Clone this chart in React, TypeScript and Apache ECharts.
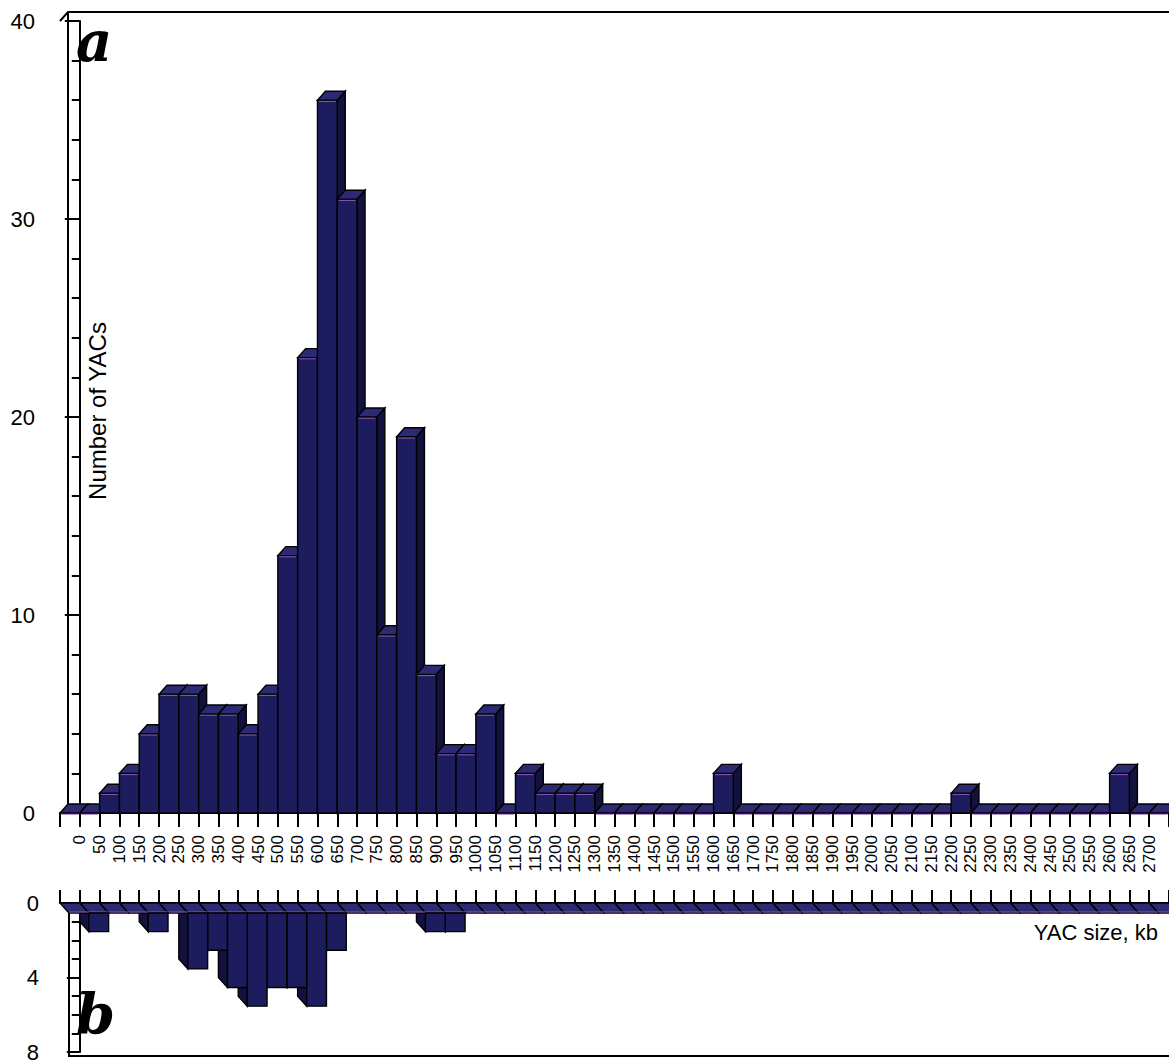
import { useEffect, useRef } from 'react';
import * as echarts from 'echarts';

// Histogram bins: each bin starts at the given size (kb) and is 50 kb wide.
const BIN_WIDTH = 50;
const binStart = [
  -50, 0, 50, 100, 150, 200, 250, 300, 350, 400, 450, 500, 550, 600, 650, 700,
  750, 800, 850, 900, 950, 1000, 1050, 1100, 1150, 1200, 1250, 1300, 1350, 1400,
  1450, 1500, 1550, 1600, 1650, 1700, 1750, 1800, 1850, 1900, 1950, 2000, 2050,
  2100, 2150, 2200, 2250, 2300, 2350, 2400, 2450, 2500, 2550, 2600, 2650, 2700,
];

// Panel a: number of YACs per size bin
const countsA = [
  0, 0, 1, 2, 4, 6, 6, 5, 5, 4, 6, 13, 23, 36, 31, 20, 9, 19, 7, 3, 3, 5, 0, 2, 1, 1, 1,
  0, 0, 0, 0, 0, 0, 2, 0, 0, 0, 0, 0, 0, 0, 0, 0, 0, 0, 1, 0, 0, 0, 0, 0, 0, 0, 2, 0, 0,
];

// Panel b: second set, drawn hanging below its baseline
const countsB = [
  0, 1, 0, 0, 1, 0, 3, 2, 4, 5, 4, 4, 5, 2, 0, 0, 0, 0, 1, 1,
  0, 0, 0, 0, 0, 0, 0, 0, 0, 0, 0, 0, 0, 0, 0, 0, 0, 0, 0, 0, 0, 0, 0, 0, 0, 0, 0, 0, 0, 0, 0, 0, 0, 0, 0, 0,
];

const yTicksA = { min: 0, max: 40, interval: 10 };
const yTicksB = { min: 0, max: 8, interval: 4 };
const xRange = { min: -50, max: 2750, interval: 50, lastLabel: 2700 };

const FRONT = '#1d1c5e';
const TOP = '#2c2a72';
const SIDE = '#13123f';
const EDGE = '#000000';
const GLOW = '#8a5cb4';
const SANS = '"Liberation Sans", Arial, Helvetica, sans-serif';
const SERIF = '"DejaVu Serif", "Liberation Serif", serif';

// depth offsets of the pseudo-3D columns (pixels)
const DEPTH_A = { dx: 8, dy: -9 };
const DEPTH_B = { dx: 9, dy: 10 };

function renderUpright(params: any, api: any) {
  const x0 = api.value(0);
  const v = api.value(1);
  const bl = api.coord([x0, 0]);
  const tr = api.coord([x0 + BIN_WIDTH, v]);
  const xL = bl[0], yB = bl[1], xR = tr[0], yT = tr[1];
  const { dx, dy } = DEPTH_A;
  const base = params.dataIndex * 5;
  const children: any[] = [];
  if (yB - yT > 0.5) {
    children.push({
      type: 'polygon', z2: base,
      shape: { points: [[xR, yT], [xR + dx, yT + dy], [xR + dx, yB + dy], [xR, yB]] },
      style: { fill: SIDE, stroke: EDGE, lineWidth: 1.4 },
    });
    children.push({
      type: 'rect', z2: base + 1,
      shape: { x: xL, y: yT, width: xR - xL, height: yB - yT },
      style: { fill: FRONT, stroke: EDGE, lineWidth: 1.4 },
    });
  }
  children.push({
    type: 'polygon', z2: base + 2,
    shape: { points: [[xL, yT], [xR, yT], [xR + dx, yT + dy], [xL + dx, yT + dy]] },
    style: { fill: TOP, stroke: EDGE, lineWidth: 1.4 },
  });
  children.push({
    type: 'line', z2: base + 3,
    shape: { x1: xL + 1.5, y1: yT + 1.2, x2: xR - 1.5, y2: yT + 1.2 },
    style: { stroke: GLOW, lineWidth: 1 },
  });
  return { type: 'group', children };
}

function renderHanging(params: any, api: any) {
  const x0 = api.value(0);
  const v = api.value(1);
  const p0 = api.coord([x0, 0]);
  const p1 = api.coord([x0 + BIN_WIDTH, v]);
  const xL = p0[0], y0 = p0[1], xR = p1[0], yv = p1[1];
  const { dx, dy } = DEPTH_B;
  const base = params.dataIndex * 5;
  const children: any[] = [];
  children.push({
    type: 'polygon', z2: base,
    shape: { points: [[xL, y0], [xR, y0], [xR + dx, y0 + dy], [xL + dx, y0 + dy]] },
    style: { fill: TOP, stroke: EDGE, lineWidth: 1.4 },
  });
  children.push({
    type: 'line', z2: base + 1,
    shape: { x1: xL + dx, y1: y0 + dy - 1, x2: xR + dx, y2: y0 + dy - 1 },
    style: { stroke: GLOW, lineWidth: 1 },
  });
  if (yv - y0 > 0.5) {
    children.push({
      type: 'polygon', z2: base + 2,
      shape: { points: [[xL, y0], [xL + dx, y0 + dy], [xL + dx, yv + dy], [xL, yv]] },
      style: { fill: SIDE, stroke: EDGE, lineWidth: 1.4 },
    });
    children.push({
      type: 'rect', z2: base + 3,
      shape: { x: xL + dx, y: y0 + dy, width: xR - xL, height: yv - y0 },
      style: { fill: FRONT, stroke: EDGE, lineWidth: 1.4 },
    });
  }
  return { type: 'group', children };
}

const sizeLabel = (v: number) => (v < 0 || v > xRange.lastLabel ? '' : String(v));

export default function App() {
  const ref = useRef<HTMLDivElement>(null);

  useEffect(() => {
    if (!ref.current) return;
    const chart = echarts.init(ref.current, undefined, { renderer: 'svg' });

    const dataA = binStart.map((x, i) => [x, countsA[i]]);
    // drawn right to left so the nearer (left) columns cover their neighbours
    const dataB = binStart.map((x, i) => [x, countsB[i]]).reverse();

    const tickStyle = { color: '#000', width: 2 };

    chart.setOption({
      animation: false,
      backgroundColor: '#ffffff',
      grid: [
        { left: 60, right: 0, top: 21, bottom: 250 },
        { left: 60, right: 0, top: 903, bottom: 2 },
      ],
      xAxis: [
        {
          gridIndex: 0, type: 'value', min: xRange.min, max: xRange.max, interval: xRange.interval,
          axisLine: { show: true, onZero: false, lineStyle: tickStyle },
          axisTick: { show: true, length: 14, lineStyle: tickStyle },
          axisLabel: {
            rotate: 90, margin: 22, fontSize: 17, color: '#000', fontFamily: SANS,
            formatter: sizeLabel,
          },
          splitLine: { show: false },
        },
        {
          gridIndex: 1, type: 'value', position: 'top', min: xRange.min, max: xRange.max, interval: xRange.interval,
          axisLine: { show: true, onZero: false, lineStyle: tickStyle },
          axisTick: { show: true, length: 13, lineStyle: tickStyle },
          axisLabel: { show: false },
          splitLine: { show: false },
        },
      ],
      yAxis: [
        {
          gridIndex: 0, type: 'value', ...yTicksA,
          axisLine: { show: true, lineStyle: tickStyle },
          axisTick: { show: true, length: 15, lineStyle: tickStyle },
          minorTick: { show: true, splitNumber: 5, length: 8, lineStyle: tickStyle },
          axisLabel: { fontSize: 22, color: '#000', margin: 25, fontFamily: SANS },
          splitLine: { show: false },
        },
        {
          gridIndex: 1, type: 'value', ...yTicksB, inverse: true,
          axisLine: { show: true, lineStyle: tickStyle },
          axisTick: { show: true, length: 13, lineStyle: tickStyle },
          minorTick: { show: true, splitNumber: 4, length: 8, lineStyle: tickStyle },
          axisLabel: { fontSize: 22, color: '#000', margin: 21, fontFamily: SANS },
          splitLine: { show: false },
        },
      ],
      series: [
        {
          type: 'custom', xAxisIndex: 0, yAxisIndex: 0, renderItem: renderUpright,
          data: dataA, encode: { x: 0, y: 1 }, clip: false, z: 3,
        },
        {
          type: 'custom', xAxisIndex: 1, yAxisIndex: 1, renderItem: renderHanging,
          data: dataB, encode: { x: 0, y: 1 }, clip: false, z: 3,
        },
      ],
      graphic: [
        // box walls of panel a
        {
          type: 'polyline', z: 1,
          shape: { points: [[60, 21], [68, 12], [1169, 12]] },
          style: { stroke: '#000', lineWidth: 2, fill: 'none' },
        },
        {
          type: 'line', z: 1,
          shape: { x1: 68, y1: 12, x2: 68, y2: 804 },
          style: { stroke: '#000', lineWidth: 2 },
        },
        // box walls of panel b
        {
          type: 'polyline', z: 1,
          shape: { points: [[69, 913], [69, 1056], [1169, 1056]] },
          style: { stroke: '#000', lineWidth: 2, fill: 'none' },
        },
        {
          type: 'text', z: 10, x: 97, y: 411, rotation: Math.PI / 2,
          style: {
            text: 'Number of YACs', fill: '#000', fontSize: 24, fontFamily: SANS,
            textAlign: 'center', textVerticalAlign: 'middle',
          },
        },
        {
          type: 'text', z: 10, x: 1158, y: 932,
          style: {
            text: 'YAC size, kb', fill: '#000', fontSize: 22, fontFamily: SANS,
            textAlign: 'right', textVerticalAlign: 'middle',
          },
        },
        {
          type: 'text', z: 10, x: 76, y: 69,
          style: {
            text: 'a', fill: '#000', fontSize: 56, fontWeight: 'bold', fontStyle: 'italic',
            fontFamily: SERIF, textAlign: 'left', textVerticalAlign: 'bottom',
          },
        },
        {
          type: 'text', z: 10, x: 76, y: 1042,
          style: {
            text: 'b', fill: '#000', fontSize: 56, fontWeight: 'bold', fontStyle: 'italic',
            fontFamily: SERIF, textAlign: 'left', textVerticalAlign: 'bottom',
          },
        },
      ],
    });

    return () => chart.dispose();
  }, []);

  return (
    <div
      ref={ref}
      style={{ position: 'fixed', left: 0, top: 0, width: '1169px', height: '1063px', background: '#fff' }}
    />
  );
}
